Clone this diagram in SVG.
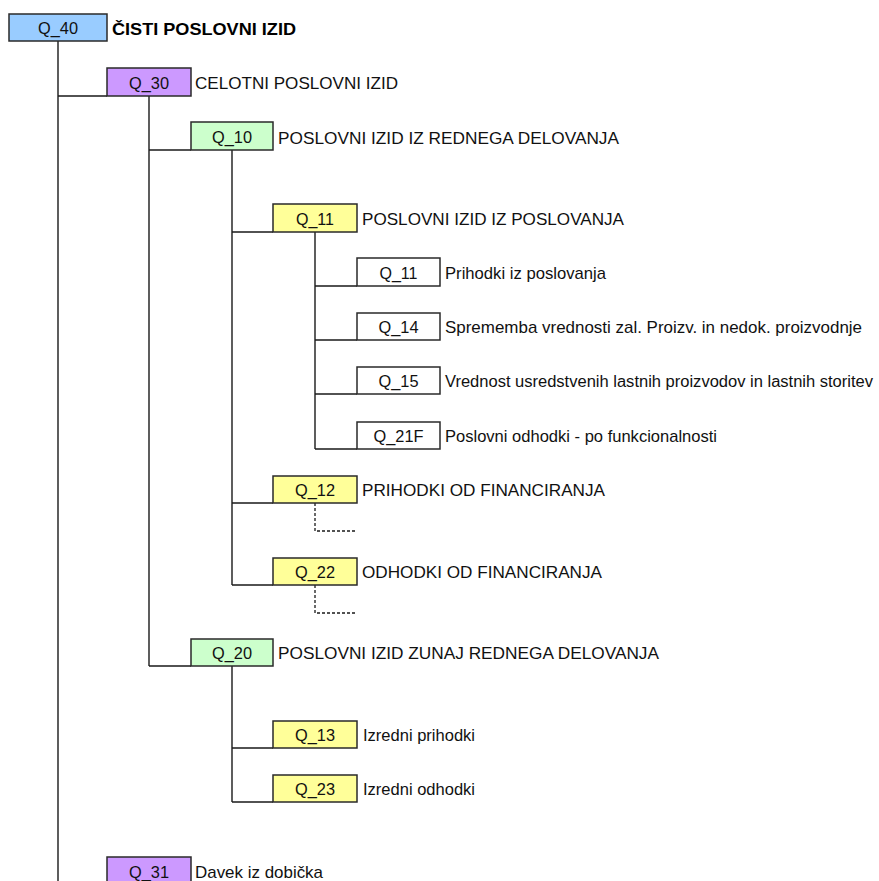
<svg xmlns="http://www.w3.org/2000/svg" width="879" height="881" viewBox="0 0 879 881">
  <style>
    .box { stroke: #2a2a2a; stroke-width: 1.5; }
    .blue { fill: #99ccff; }
    .purple { fill: #cc99ff; }
    .green { fill: #ccffcc; }
    .yellow { fill: #ffff99; }
    .white { fill: #ffffff; }
    .code { font-family: "Liberation Sans", Arial, sans-serif; font-size: 16px; fill: #111; text-anchor: middle; }
    .lbl { font-family: "Liberation Sans", Arial, sans-serif; font-size: 17px; fill: #111; }
    .lbl.long { font-size: 16px; }
    .title { font-family: "Liberation Sans", Arial, sans-serif; font-size: 17px; font-weight: bold; fill: #000; }
    .wire { stroke: #1a1a1a; stroke-width: 1.4; fill: none; }
    .dash { stroke: #1a1a1a; stroke-width: 1.3; fill: none; stroke-dasharray: 3 2; }
  </style>
  <rect width="879" height="881" fill="#ffffff"/>

  <g id="connectors">
    <path class="wire" d="M58 41 V881 M58 96 H107"/>
    <path class="wire" d="M149 96 V666 M149 150 H191 M149 666 H191"/>
    <path class="wire" d="M232 150 V585 M232 232 H273 M232 503 H273 M232 585 H273"/>
    <path class="wire" d="M315 232 V449 M315 286 H357 M315 340 H357 M315 394 H357 M315 449 H357"/>
    <path class="dash" d="M315 503 V531 H357 M315 585 V613 H357"/>
    <path class="wire" d="M232 666 V802 M232 748 H273 M232 802 H273"/>
  </g>

  <g id="q40">
    <rect class="box blue" x="9" y="14" width="98" height="27"/>
    <text class="code" x="58" y="34" textLength="40" lengthAdjust="spacingAndGlyphs">Q_40</text>
    <text class="title" x="112" y="35" textLength="184" lengthAdjust="spacingAndGlyphs">ČISTI POSLOVNI IZID</text>
  </g>

  <g id="q30">
    <rect class="box purple" x="107" y="68" width="84" height="28"/>
    <text class="code" x="149" y="89" textLength="40" lengthAdjust="spacingAndGlyphs">Q_30</text>
    <text class="lbl" x="195" y="89" textLength="203" lengthAdjust="spacingAndGlyphs">CELOTNI POSLOVNI IZID</text>
  </g>

  <g id="q10">
    <rect class="box green" x="191" y="122" width="82" height="28"/>
    <text class="code" x="232" y="143" textLength="40" lengthAdjust="spacingAndGlyphs">Q_10</text>
    <text class="lbl" x="278" y="144" textLength="341" lengthAdjust="spacingAndGlyphs">POSLOVNI IZID IZ REDNEGA DELOVANJA</text>
  </g>

  <g id="q11-group">
    <rect class="box yellow" x="273" y="204" width="84" height="28"/>
    <text class="code" x="315" y="225" textLength="38" lengthAdjust="spacingAndGlyphs">Q_11</text>
    <text class="lbl" x="362" y="225" textLength="262" lengthAdjust="spacingAndGlyphs">POSLOVNI IZID IZ POSLOVANJA</text>
  </g>

  <g id="q11">
    <rect class="box white" x="357" y="258" width="83" height="28"/>
    <text class="code" x="398.5" y="279" textLength="38" lengthAdjust="spacingAndGlyphs">Q_11</text>
    <text class="lbl" x="445" y="279" textLength="161" lengthAdjust="spacingAndGlyphs">Prihodki iz poslovanja</text>
  </g>

  <g id="q14">
    <rect class="box white" x="357" y="313" width="83" height="27"/>
    <text class="code" x="398.5" y="333" textLength="40" lengthAdjust="spacingAndGlyphs">Q_14</text>
    <text class="lbl" x="445" y="333" textLength="417" lengthAdjust="spacingAndGlyphs">Sprememba vrednosti zal. Proizv. in nedok. proizvodnje</text>
  </g>

  <g id="q15">
    <rect class="box white" x="357" y="367" width="83" height="27"/>
    <text class="code" x="398.5" y="387" textLength="40" lengthAdjust="spacingAndGlyphs">Q_15</text>
    <text class="lbl long" x="445" y="387" textLength="428" lengthAdjust="spacingAndGlyphs">Vrednost usredstvenih lastnih proizvodov in lastnih storitev</text>
  </g>

  <g id="q21f">
    <rect class="box white" x="357" y="422" width="83" height="27"/>
    <text class="code" x="398.5" y="442" textLength="50" lengthAdjust="spacingAndGlyphs">Q_21F</text>
    <text class="lbl" x="445" y="442" textLength="272" lengthAdjust="spacingAndGlyphs">Poslovni odhodki - po funkcionalnosti</text>
  </g>

  <g id="q12">
    <rect class="box yellow" x="273" y="476" width="84" height="27"/>
    <text class="code" x="315" y="496" textLength="40" lengthAdjust="spacingAndGlyphs">Q_12</text>
    <text class="lbl" x="362" y="496" textLength="243" lengthAdjust="spacingAndGlyphs">PRIHODKI OD FINANCIRANJA</text>
  </g>

  <g id="q22">
    <rect class="box yellow" x="273" y="558" width="84" height="27"/>
    <text class="code" x="315" y="578" textLength="40" lengthAdjust="spacingAndGlyphs">Q_22</text>
    <text class="lbl" x="362" y="578" textLength="240" lengthAdjust="spacingAndGlyphs">ODHODKI OD FINANCIRANJA</text>
  </g>

  <g id="q20">
    <rect class="box green" x="191" y="639" width="82" height="27"/>
    <text class="code" x="232" y="659" textLength="40" lengthAdjust="spacingAndGlyphs">Q_20</text>
    <text class="lbl" x="278" y="659" textLength="381" lengthAdjust="spacingAndGlyphs">POSLOVNI IZID ZUNAJ REDNEGA DELOVANJA</text>
  </g>

  <g id="q13">
    <rect class="box yellow" x="273" y="721" width="84" height="27"/>
    <text class="code" x="315" y="741" textLength="40" lengthAdjust="spacingAndGlyphs">Q_13</text>
    <text class="lbl" x="363" y="741" textLength="112" lengthAdjust="spacingAndGlyphs">Izredni prihodki</text>
  </g>

  <g id="q23">
    <rect class="box yellow" x="273" y="775" width="84" height="27"/>
    <text class="code" x="315" y="795" textLength="40" lengthAdjust="spacingAndGlyphs">Q_23</text>
    <text class="lbl" x="363" y="795" textLength="112" lengthAdjust="spacingAndGlyphs">Izredni odhodki</text>
  </g>

  <g id="q31">
    <rect class="box purple" x="107" y="857" width="84" height="28"/>
    <text class="code" x="149" y="878" textLength="40" lengthAdjust="spacingAndGlyphs">Q_31</text>
    <text class="lbl" x="195" y="878" textLength="128" lengthAdjust="spacingAndGlyphs">Davek iz dobička</text>
  </g>
</svg>
